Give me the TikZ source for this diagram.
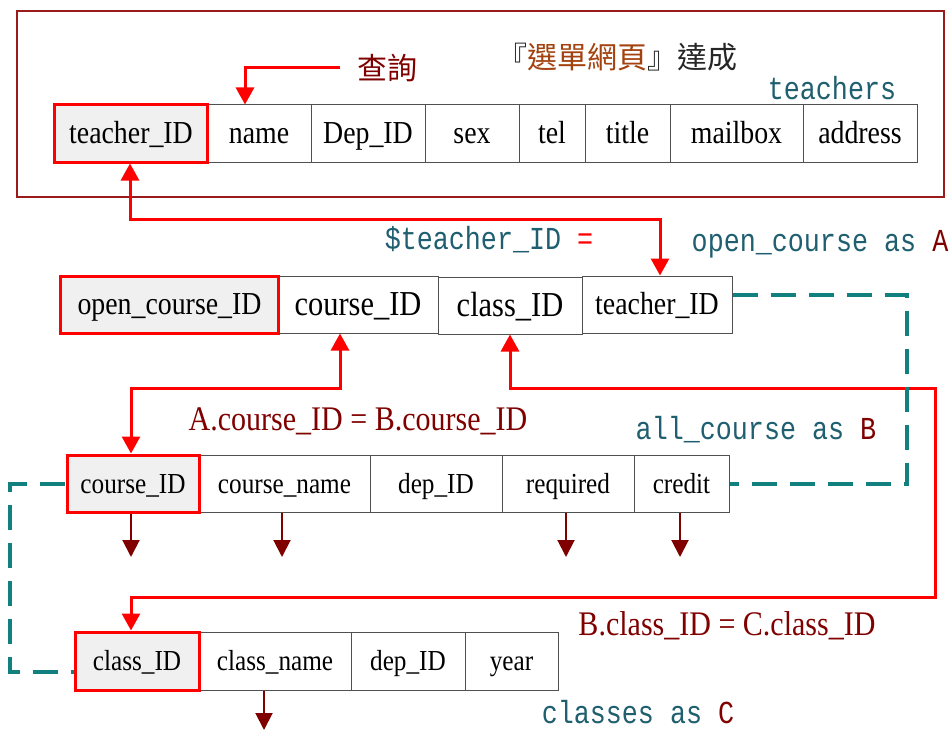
\documentclass[tikz,border=0pt]{standalone}
\usepackage{fontspec}
\usetikzlibrary{arrows.meta}
\setmainfont{Liberation Serif}
\newfontfamily\cellfont[FakeStretch=0.87]{Liberation Serif}
\newfontfamily\codefont[FakeStretch=0.835]{Liberation Mono}
\newfontfamily\cjkfont{Noto Sans CJK TC}
\definecolor{keygray}{HTML}{F0F0F0}
\definecolor{cellgray}{HTML}{505050}
\definecolor{framered}{HTML}{9A1B1B}
\definecolor{darkred}{HTML}{800000}
\definecolor{tealdash}{HTML}{12807F}
\definecolor{tealtext}{HTML}{1F5F70}
\definecolor{brownred}{HTML}{A3420E}
\tikzset{
  cell/.style={draw=cellgray, line width=1bp, fill=white, inner sep=0pt},
  keycell/.style={cell, draw=red, line width=3bp, fill=keygray},
  fa/.style={font=\cellfont\fontsize{32bp}{34bp}\selectfont, text height=25bp, text depth=4.5bp},
  fb/.style={font=\cellfont\fontsize{35bp}{37bp}\selectfont, text height=27bp, text depth=6bp},
  fc/.style={font=\cellfont\fontsize{29bp}{31bp}\selectfont, text height=22.5bp, text depth=3.5bp},
  joinlabel/.style={font=\cellfont\fontsize{34.5bp}{36bp}\selectfont, text=darkred, inner sep=0pt},
  codelabel/.style={font=\codefont\fontsize{32bp}{34bp}\selectfont, text=tealtext, inner sep=0pt},
  redline/.style={draw=red, line width=3bp},
  redboth/.style={redline, {Triangle[width=18bp,length=17bp]}-{Triangle[width=18bp,length=17bp]}},
  redend/.style={redline, -{Triangle[width=18bp,length=17bp]}},
  tealline/.style={draw=tealdash, line width=3.5bp, dash pattern=on 25bp off 13bp},
  smallarrow/.style={draw=darkred, line width=2bp, -{Triangle[width=17bp,length=17bp]}}
}
\begin{document}
\begin{tikzpicture}[x=1bp,y=-1bp]
\useasboundingbox (0,0) rectangle (952,731);
\fill[white] (0,0) rectangle (952,731);

% frame
\draw[framered, line width=2bp] (17,11) rectangle (944,197);

% table teachers
\node[cell, fa, minimum width=104bp, minimum height=57bp] (name) at (259,133.5) {name};
\node[cell, fa, minimum width=114bp, minimum height=57bp] (depid1) at (368,133.5) {Dep\_ID};
\node[cell, fa, minimum width=94bp, minimum height=57bp] (sex) at (472,133.5) {sex};
\node[cell, fa, minimum width=66bp, minimum height=57bp] (tel) at (552,133.5) {tel};
\node[cell, fa, minimum width=85bp, minimum height=57bp] (title) at (627.5,133.5) {title};
\node[cell, fa, minimum width=133bp, minimum height=57bp] (mailbox) at (736.5,133.5) {mailbox};
\node[cell, fa, minimum width=114bp, minimum height=57bp] (address) at (860,133.5) {address};
\node[keycell, fa, minimum width=152bp, minimum height=57bp] (tid1) at (131,133.5) {teacher\_ID};

% table open_course
\node[cell, fb, minimum width=160bp, minimum height=57bp] (cid2) at (358,304.5) {course\_ID};
\node[cell, fb, minimum width=144bp, minimum height=57bp] (clid2) at (510,305.5) {class\_ID};
\node[cell, fa, minimum width=150bp, minimum height=57bp] (tid2) at (657,304.5) {teacher\_ID};
\node[keycell, fa, minimum width=217bp, minimum height=57bp] (ocid) at (169.5,304.5) {open\_course\_ID};

% table all_course
\node[cell, fc, minimum width=171bp, minimum height=57bp] (cname) at (284.5,483.5) {course\_name};
\node[cell, fc, minimum width=132bp, minimum height=57bp] (depid3) at (436,483.5) {dep\_ID};
\node[cell, fc, minimum width=132bp, minimum height=57bp] (req) at (568,483.5) {required};
\node[cell, fc, minimum width=95bp, minimum height=57bp] (credit) at (681.5,483.5) {credit};
\node[keycell, fc, minimum width=132bp, minimum height=57bp] (cid3) at (133,483.5) {course\_ID};

% table classes
\node[cell, fc, minimum width=152bp, minimum height=58bp] (clname) at (275,661) {class\_name};
\node[cell, fc, minimum width=114bp, minimum height=58bp] (depid4) at (408,661) {dep\_ID};
\node[cell, fc, minimum width=93bp, minimum height=58bp] (year) at (511.5,661) {year};
\node[keycell, fc, minimum width=124bp, minimum height=58bp] (clid4) at (137,661) {class\_ID};

% labels
\node[font=\cjkfont\fontsize{30bp}{32bp}\selectfont, text=darkred, inner sep=0pt] (query) at (387,68) {查詢};
\node[font=\cjkfont\fontsize{30bp}{32bp}\selectfont, text=black!85, inner sep=0pt] (heading) at (617,57) {『\textcolor{brownred}{選單網頁}』達成};
\node[codelabel] (lteachers) at (832,88) {teachers};
\node[codelabel] (lteq) at (489,240) {\$teacher\_ID \textcolor{red}{=}};
\node[codelabel] (lA) at (820,244) {open\_course as \textcolor{darkred}{A}};
\node[joinlabel] (jab) at (358,421) {A.course\_ID = B.course\_ID};
\node[codelabel] (lB) at (756,430) {all\_course as \textcolor{darkred}{B}};
\node[joinlabel] (jbc) at (727,626) {B.class\_ID = C.class\_ID};
\node[codelabel] (lC) at (638,712) {classes as \textcolor{darkred}{C}};

% query arrow
\coordinate (qb) at (340,68);
\coordinate (qa) at (245,68);
\draw[redend] (qb) -- (qa) -- (qa |- name.north);

% red join connectors
\coordinate (r1) at (130,219);
\coordinate (r1b) at (660,219);
\draw[redboth] (tid1.south -| r1) -- (r1) -- (r1b) -- (r1b |- tid2.north);

\coordinate (r2) at (340,388);
\coordinate (r2b) at (131,388);
\draw[redboth] (cid2.south -| r2) -- (r2) -- (r2b) -- (r2b |- cid3.north);

\coordinate (r3a) at (935,388);
\coordinate (r3b) at (935,597);
\coordinate (r3c) at (131,597);
\draw[redboth] (clid2.south) |- (r3a) -- (r3b) -- (r3c) -- (r3c |- clid4.north);

% teal dashed connectors
\coordinate (d1a) at (907,295);
\coordinate (d1b) at (907,484);
\draw[tealline] (tid2.east |- d1a) -- (d1a) -- (d1b) -- (credit.east |- d1b);
\coordinate (d2a) at (10,484);
\coordinate (d2b) at (10,672);
\draw[tealline] (cid3.west |- d2a) -- (d2a) -- (d2b) -- (clid4.west |- d2b);

% small dark red arrows
\coordinate (s1) at (131,557);
\coordinate (s2) at (282,557);
\coordinate (s3) at (566,557);
\coordinate (s4) at (680,557);
\coordinate (s5) at (264,730);
\draw[smallarrow] (s1 |- cid3.south) -- (s1);
\draw[smallarrow] (s2 |- cname.south) -- (s2);
\draw[smallarrow] (s3 |- req.south) -- (s3);
\draw[smallarrow] (s4 |- credit.south) -- (s4);
\draw[smallarrow] (s5 |- clname.south) -- (s5);
\end{tikzpicture}
\end{document}
